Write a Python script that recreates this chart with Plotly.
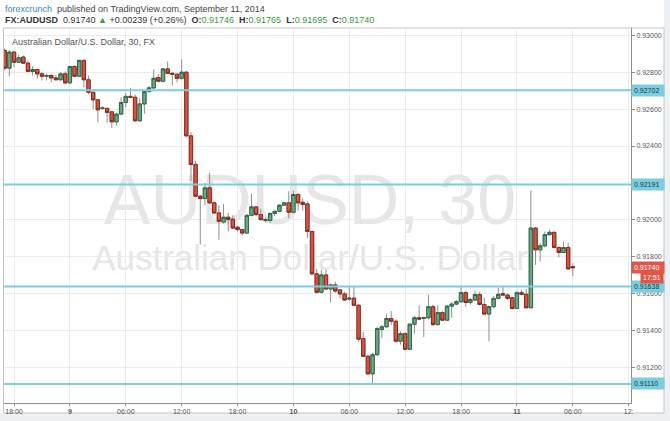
import pandas as pd
import plotly.graph_objects as go

# ---------------------------------------------------------------------------
# Data: AUD/USD, 30 minute bars, Sep 8 17:00 - Sep 11 06:00
# ---------------------------------------------------------------------------
START = "2014-09-08 17:00"
BAR = "30min"

OPEN = [
    0.92918, 0.92822, 0.92909, 0.92854, 0.92882, 0.92849, 0.92804, 0.92815, 0.92791, 0.92778,
    0.92782, 0.92769, 0.92759, 0.92791, 0.92742, 0.92831, 0.92778, 0.92864, 0.92759, 0.92691,
    0.92650, 0.92604, 0.92604, 0.92585, 0.92531, 0.92573, 0.92636, 0.92669, 0.92664, 0.92537,
    0.92628, 0.92695, 0.92715, 0.92771, 0.92751, 0.92818, 0.92794, 0.92789, 0.92767, 0.92800,
    0.92455, 0.92300, 0.92128, 0.92115, 0.92173, 0.92092, 0.92037, 0.91988, 0.92014, 0.92003,
    0.91960, 0.91947, 0.91928, 0.92024, 0.92070, 0.92028, 0.91996, 0.91996, 0.92034, 0.92046,
    0.92079, 0.92092, 0.92041, 0.92137, 0.92095, 0.92086, 0.91937, 0.91707, 0.91607, 0.91701,
    0.91625, 0.91647, 0.91620, 0.91598, 0.91570, 0.91575, 0.91537, 0.91356, 0.91260, 0.91165,
    0.91269, 0.91405, 0.91420, 0.91465, 0.91450, 0.91342, 0.91383, 0.91298, 0.91434, 0.91469,
    0.91465, 0.91469, 0.91529, 0.91432, 0.91497, 0.91456, 0.91532, 0.91543, 0.91556, 0.91605,
    0.91552, 0.91565, 0.91595, 0.91541, 0.91489, 0.91529, 0.91574, 0.91600, 0.91592, 0.91577,
    0.91519, 0.91605, 0.91596, 0.91523, 0.91955, 0.91837, 0.91859, 0.91919, 0.91932, 0.91850,
    0.91823, 0.91850, 0.91746,
]
HIGH = [
    0.92930, 0.92920, 0.92915, 0.92895, 0.92891, 0.92860, 0.92833, 0.92818, 0.92800, 0.92791,
    0.92791, 0.92785, 0.92800, 0.92804, 0.92835, 0.92837, 0.92868, 0.92868, 0.92782, 0.92695,
    0.92655, 0.92615, 0.92608, 0.92590, 0.92580, 0.92664, 0.92688, 0.92715, 0.92680, 0.92658,
    0.92700, 0.92725, 0.92815, 0.92791, 0.92822, 0.92858, 0.92800, 0.92795, 0.92869, 0.92805,
    0.92473, 0.92320, 0.92135, 0.92200, 0.92255, 0.92100, 0.92078, 0.92085, 0.92037, 0.92025,
    0.91965, 0.91950, 0.92033, 0.92143, 0.92075, 0.92060, 0.92010, 0.92040, 0.92050, 0.92085,
    0.92095, 0.92155, 0.92159, 0.92145, 0.92115, 0.92100, 0.91940, 0.91734, 0.91729, 0.91729,
    0.91655, 0.91665, 0.91625, 0.91610, 0.91638, 0.91638, 0.91540, 0.91392, 0.91270, 0.91280,
    0.91420, 0.91430, 0.91490, 0.91505, 0.91460, 0.91395, 0.91390, 0.91440, 0.91480, 0.91537,
    0.91475, 0.91595, 0.91540, 0.91537, 0.91505, 0.91540, 0.91556, 0.91565, 0.91643, 0.91615,
    0.91575, 0.91616, 0.91610, 0.91577, 0.91535, 0.91587, 0.91632, 0.91640, 0.91600, 0.91580,
    0.91616, 0.91620, 0.91627, 0.92159, 0.91960, 0.91875, 0.91937, 0.91946, 0.91937, 0.91855,
    0.91883, 0.91875, 0.91765,
]
LOW = [
    0.92810, 0.92778, 0.92827, 0.92850, 0.92846, 0.92800, 0.92782, 0.92764, 0.92755, 0.92755,
    0.92746, 0.92755, 0.92755, 0.92737, 0.92740, 0.92773, 0.92775, 0.92718, 0.92682, 0.92600,
    0.92528, 0.92596, 0.92528, 0.92498, 0.92510, 0.92570, 0.92610, 0.92660, 0.92530, 0.92530,
    0.92575, 0.92690, 0.92710, 0.92745, 0.92745, 0.92790, 0.92728, 0.92745, 0.92760, 0.92450,
    0.92210, 0.92120, 0.91865, 0.92078, 0.92085, 0.92030, 0.91892, 0.91980, 0.91937, 0.91950,
    0.91937, 0.91915, 0.91925, 0.92018, 0.92020, 0.91995, 0.91985, 0.91985, 0.92020, 0.92040,
    0.92075, 0.92008, 0.92035, 0.92050, 0.92050, 0.91900, 0.91700, 0.91600, 0.91600, 0.91620,
    0.91552, 0.91605, 0.91574, 0.91560, 0.91560, 0.91530, 0.91338, 0.91255, 0.91160, 0.91105,
    0.91260, 0.91360, 0.91415, 0.91430, 0.91335, 0.91323, 0.91295, 0.91295, 0.91383, 0.91455,
    0.91365, 0.91460, 0.91425, 0.91425, 0.91450, 0.91450, 0.91469, 0.91538, 0.91550, 0.91529,
    0.91540, 0.91560, 0.91535, 0.91485, 0.91342, 0.91520, 0.91570, 0.91585, 0.91565, 0.91515,
    0.91515, 0.91590, 0.91520, 0.91520, 0.91756, 0.91774, 0.91850, 0.91915, 0.91845, 0.91796,
    0.91818, 0.91730, 0.91695,
]
CLOSE = [
    0.92822, 0.92909, 0.92854, 0.92878, 0.92849, 0.92804, 0.92815, 0.92791, 0.92778, 0.92782,
    0.92769, 0.92759, 0.92791, 0.92742, 0.92831, 0.92778, 0.92864, 0.92759, 0.92691, 0.92650,
    0.92596, 0.92606, 0.92582, 0.92531, 0.92573, 0.92636, 0.92669, 0.92664, 0.92537, 0.92628,
    0.92695, 0.92715, 0.92767, 0.92751, 0.92818, 0.92794, 0.92789, 0.92767, 0.92800, 0.92455,
    0.92300, 0.92128, 0.92115, 0.92173, 0.92092, 0.92037, 0.91992, 0.92014, 0.92001, 0.91955,
    0.91947, 0.91928, 0.92024, 0.92070, 0.92028, 0.92001, 0.92001, 0.92034, 0.92046, 0.92079,
    0.92092, 0.92041, 0.92137, 0.92092, 0.92083, 0.91937, 0.91707, 0.91607, 0.91701, 0.91625,
    0.91647, 0.91614, 0.91598, 0.91565, 0.91575, 0.91537, 0.91353, 0.91260, 0.91165, 0.91269,
    0.91410, 0.91420, 0.91465, 0.91450, 0.91342, 0.91383, 0.91298, 0.91434, 0.91469, 0.91462,
    0.91469, 0.91529, 0.91432, 0.91497, 0.91456, 0.91532, 0.91543, 0.91556, 0.91605, 0.91552,
    0.91568, 0.91595, 0.91541, 0.91489, 0.91529, 0.91574, 0.91596, 0.91592, 0.91574, 0.91519,
    0.91605, 0.91596, 0.91523, 0.91955, 0.91837, 0.91859, 0.91919, 0.91932, 0.91850, 0.91823,
    0.91850, 0.91734, 0.91740,
]

# horizontal levels drawn by the author, and the live price tag
LEVELS = [0.92702, 0.92191, 0.91638, 0.91110]
LAST_PRICE = 0.91740
COUNTDOWN = "17:51"

# price scale labels (0.92200 sits under the 0.92191 tag, so it is not shown)
Y_TICKS = [0.930, 0.928, 0.926, 0.924, 0.920, 0.918, 0.916, 0.914, 0.912]

X_TICKS = [
    "2014-09-08 18:00", "2014-09-09 00:00", "2014-09-09 06:00", "2014-09-09 12:00",
    "2014-09-09 18:00", "2014-09-10 00:00", "2014-09-10 06:00", "2014-09-10 12:00",
    "2014-09-10 18:00", "2014-09-11 00:00", "2014-09-11 06:00", "2014-09-11 12:00",
]
# the last label is cut by the price scale in the original
X_TICK_TEXT = [
    "18:00", "<b>9</b>", "06:00", "12:00", "18:00", "<b>10</b>",
    "06:00", "12:00", "18:00", "<b>11</b>", "06:00", "12:",
]

# ---------------------------------------------------------------------------
# Style
# ---------------------------------------------------------------------------
W, H = 670, 421
ML, MR, MT, MB = 4, 39, 28, 18
PW, PH = W - ML - MR, H - MT - MB

FONT = "Liberation Sans, Arial, sans-serif"
GREEN_FILL, GREEN_LINE = "#6BA583", "#2E6B47"
RED_FILL, RED_LINE = "#D75442", "#8A2A1E"
WICK = "#8E8E8E"
LEVEL_COLOR = "#7ACEDF"
TAG_RED = "#E0574A"
GRID = "#EBEBEB"
AXIS = "#8C8C8C"


def px_x(px):
    """figure pixel -> paper x"""
    return (px - ML) / PW


def px_y(py):
    """figure pixel -> paper y"""
    return (H - MB - py) / PH


times = pd.date_range(START, periods=len(OPEN), freq=BAR)
body_hi = [max(o, c) for o, c in zip(OPEN, CLOSE)]
body_lo = [min(o, c) for o, c in zip(OPEN, CLOSE)]

fig = go.Figure()

# wicks (grey), drawn first
fig.add_trace(go.Candlestick(
    x=times, open=OPEN, high=HIGH, low=LOW, close=CLOSE,
    increasing=dict(line=dict(color=WICK, width=1), fillcolor=WICK),
    decreasing=dict(line=dict(color=WICK, width=1), fillcolor=WICK),
    hoverinfo="skip", showlegend=False,
))
# bodies on top
fig.add_trace(go.Candlestick(
    x=times, open=OPEN, high=body_hi, low=body_lo, close=CLOSE,
    increasing=dict(line=dict(color=GREEN_LINE, width=1), fillcolor=GREEN_FILL),
    decreasing=dict(line=dict(color=RED_LINE, width=1), fillcolor=RED_FILL),
    showlegend=False,
))

shapes = [
    # white page with chart frame
    dict(type="rect", xref="paper", yref="paper", layer="below",
         x0=px_x(0), x1=px_x(664), y0=px_y(413), y1=px_y(0),
         fillcolor="white", line=dict(width=0)),
    dict(type="rect", xref="paper", yref="paper", layer="below",
         x0=px_x(3.5), x1=px_x(664), y0=px_y(413), y1=px_y(28),
         fillcolor="white", line=dict(color="#C4C4C4", width=1)),
    # watermark
    dict(type="rect", xref="paper", yref="paper", layer="below",
         x0=px_x(110), x1=px_x(510), y0=px_y(225), y1=px_y(160),
         line=dict(width=0), fillcolor="rgba(0,0,0,0)",
         label=dict(text="AUDUSD, 30", textposition="middle center",
                    font=dict(family=FONT, size=70, color="#E6E6E6"))),
    dict(type="rect", xref="paper", yref="paper", layer="below",
         x0=px_x(90), x1=px_x(530), y0=px_y(272), y1=px_y(236),
         line=dict(width=0), fillcolor="rgba(0,0,0,0)",
         label=dict(text="Australian Dollar/U.S. Dollar", textposition="middle center",
                    font=dict(family=FONT, size=35, color="#E6E6E6"))),
]
for lvl in LEVELS:
    shapes.append(dict(type="line", xref="paper", yref="y", x0=0, x1=1, y0=lvl, y1=lvl,
                       line=dict(color=LEVEL_COLOR, width=2)))

annotations = [
    dict(xref="paper", yref="paper", x=px_x(3), y=px_y(9), xanchor="left", yanchor="middle",
         showarrow=False, font=dict(family=FONT, size=9, color="#444444"),
         text="<span style='color:#3B82C4'>forexcrunch</span>  published on TradingView.com, September 11, 2014"),
    dict(xref="paper", yref="paper", x=px_x(3), y=px_y(20), xanchor="left", yanchor="middle",
         showarrow=False, font=dict(family=FONT, size=9, color="#333333"),
         text=("<b>FX:AUDUSD</b>  0.91740 <span style='color:#3A9A3A'>▲</span> +0.00239 (+0.26%)  "
               "<b>O:</b><span style='color:#3A9A3A'>0.91746</span>  "
               "<b>H:</b><span style='color:#3A9A3A'>0.91765</span>  "
               "<b>L:</b><span style='color:#3A9A3A'>0.91695</span>  "
               "<b>C:</b><span style='color:#3A9A3A'>0.91740</span>")),
    dict(xref="paper", yref="paper", x=px_x(10), y=px_y(41.5), xanchor="left", yanchor="middle",
         showarrow=False, font=dict(family=FONT, size=9, color="#555555"),
         text="Australian Dollar/U.S. Dollar, 30, FX"),
]
for lvl in LEVELS:
    annotations.append(dict(
        xref="paper", yref="y", x=1.0, y=lvl, xanchor="left", yanchor="middle",
        showarrow=False, text=f"{lvl:.5f}", bgcolor=LEVEL_COLOR, borderpad=2,
        width=28, align="left", font=dict(family=FONT, size=7, color="#1E3A40")))
annotations.append(dict(
    xref="paper", yref="y", x=1.0, y=LAST_PRICE, xanchor="left", yanchor="middle",
    showarrow=False, text=f"{LAST_PRICE:.5f}", bgcolor=TAG_RED, borderpad=2,
    width=28, align="left", font=dict(family=FONT, size=7, color="white")))
annotations.append(dict(
    xref="paper", yref="y", x=px_x(664), y=LAST_PRICE, yshift=-10, xanchor="right",
    yanchor="middle", showarrow=False, text=COUNTDOWN, bgcolor=TAG_RED, borderpad=2,
    font=dict(family=FONT, size=7, color="white")))

fig.update_layout(
    width=W, height=H,
    margin=dict(l=ML, r=MR, t=MT, b=MB),
    paper_bgcolor="#EEF1F4",
    plot_bgcolor="white",
    showlegend=False,
    boxgap=0.15, boxgroupgap=0.15,
    font=dict(family=FONT, size=7, color="#555555"),
    shapes=shapes,
    annotations=annotations,
    xaxis=dict(
        type="date",
        range=["2014-09-08 16:55:30", "2014-09-11 12:15"],
        rangeslider=dict(visible=False),
        tickvals=X_TICKS, ticktext=X_TICK_TEXT,
        showgrid=True, gridcolor=GRID, gridwidth=1,
        showline=True, linecolor=AXIS, linewidth=1,
        ticks="outside", ticklen=2, tickcolor=AXIS,
        tickfont=dict(family=FONT, size=7, color="#555555"),
        zeroline=False, fixedrange=True,
    ),
    yaxis=dict(
        side="right",
        range=[0.910069, 0.930396],
        tickvals=Y_TICKS, tickformat=".5f",
        showgrid=True, gridcolor=GRID, gridwidth=1,
        showline=True, linecolor=AXIS, linewidth=1,
        ticks="outside", ticklen=3, tickcolor=AXIS,
        tickfont=dict(family=FONT, size=7, color="#555555"),
        zeroline=False, fixedrange=True,
    ),
)

# the page is exactly the figure size, so drop the default body margin
fig.write_html(
    "out.html",
    config={"displayModeBar": False},
    post_script="document.body.style.margin='0';",
)
